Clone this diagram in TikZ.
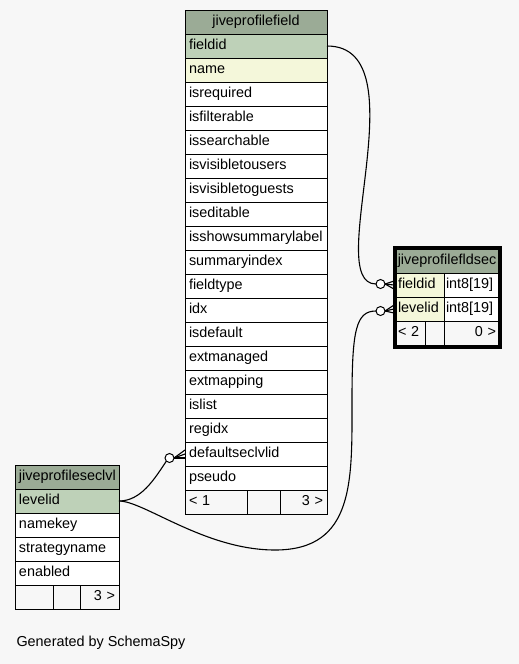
\documentclass[tikz,border=0pt]{standalone}
\usepackage{fontspec}
\setmainfont{Liberation Sans}
\usetikzlibrary{positioning,fit}
\definecolor{hdr}{HTML}{9BAB96}
\definecolor{pkey}{HTML}{BED1B8}
\definecolor{idxcol}{HTML}{F4F7DA}
\definecolor{page}{HTML}{F7F7F7}
\tikzset{
	cell/.style={draw, line width=1pt, fill=white, inner xsep=4pt, inner ysep=0pt, outer sep=0pt, minimum height=24pt, text height=10pt, text depth=3pt, font=\fontsize{14.4}{16}\selectfont, align=left},
	head/.style={cell, fill=hdr, align=center},
	pk/.style={cell, fill=pkey},
	ix/.style={cell, fill=idxcol},
	foot/.style={cell, fill=page},
	frame/.style={draw, line width=3pt, inner sep=2pt, outer sep=0pt},
	rel/.style={line width=1.1pt},
	odot/.style={draw, circle, fill=white, line width=1pt, minimum size=9pt, inner sep=0pt, outer sep=0pt}
}

\begin{document}
\begin{tikzpicture}[x=1pt, y=-1pt]
	\fill[page] (0,0) rectangle (519,664);
	\useasboundingbox (0,0) rectangle (519,664);
	% jiveprofilefield
	\begin{scope}[every node/.append style={text width=134pt}]
		\node[head, anchor=north west] (f-head) at (185,10) {jiveprofilefield};
		\node[pk, below=0pt of f-head] (f-fieldid) {fieldid};
		\node[ix, below=0pt of f-fieldid] (f-name) {name};
		\node[cell, below=0pt of f-name] (f-isreq) {isrequired};
		\node[cell, below=0pt of f-isreq] (f-isfilt) {isfilterable};
		\node[cell, below=0pt of f-isfilt] (f-issearch) {issearchable};
		\node[cell, below=0pt of f-issearch] (f-visusers) {isvisibletousers};
		\node[cell, below=0pt of f-visusers] (f-visguests) {isvisibletoguests};
		\node[cell, below=0pt of f-visguests] (f-isedit) {iseditable};
		\node[cell, below=0pt of f-isedit] (f-showsum) {isshowsummarylabel};
		\node[cell, below=0pt of f-showsum] (f-sumidx) {summaryindex};
		\node[cell, below=0pt of f-sumidx] (f-ftype) {fieldtype};
		\node[cell, below=0pt of f-ftype] (f-idx) {idx};
		\node[cell, below=0pt of f-idx] (f-isdef) {isdefault};
		\node[cell, below=0pt of f-isdef] (f-extman) {extmanaged};
		\node[cell, below=0pt of f-extman] (f-extmap) {extmapping};
		\node[cell, below=0pt of f-extmap] (f-islist) {islist};
		\node[cell, below=0pt of f-islist] (f-regidx) {regidx};
		\node[cell, below=0pt of f-regidx] (f-dflt) {defaultseclvlid};
		\node[cell, below=0pt of f-dflt] (f-pseudo) {pseudo};
		\node[foot, text width=54pt, below=0pt of f-pseudo.south west, anchor=north west] (f-foot1) {< 1};
		\node[foot, text width=25pt, right=0pt of f-foot1] (f-foot2) {};
		\node[foot, text width=39pt, align=right, right=0pt of f-foot2] (f-foot3) {3 >};
	\end{scope}
	% jiveprofilefldsec
	\node[head, inner xsep=1pt, text width=100pt, anchor=north west] (fs-head) at (396,249) {jiveprofilefldsec};
	\node[ix, inner xsep=2pt, text width=44pt, below=0pt of fs-head.south west, anchor=north west] (fs-fieldid) {fieldid};
	\node[cell, inner xsep=2pt, text width=50pt, right=0pt of fs-fieldid] (fs-type1) {int8[19]};
	\node[ix, inner xsep=2pt, text width=44pt, below=0pt of fs-fieldid] (fs-levelid) {levelid};
	\node[cell, inner xsep=2pt, text width=50pt, right=0pt of fs-levelid] (fs-type2) {int8[19]};
	\node[foot, inner xsep=2pt, text width=25pt, below=0pt of fs-levelid.south west, anchor=north west] (fs-foot1) {< 2};
	\node[foot, inner xsep=2pt, text width=15pt, right=0pt of fs-foot1] (fs-foot2) {};
	\node[foot, inner xsep=2pt, text width=50pt, align=right, right=0pt of fs-foot2] (fs-foot3) {0 >};
	\node[frame, fit=(fs-head)(fs-foot3)] (fs) {};
	% jiveprofileseclvl
	\begin{scope}[every node/.append style={text width=96pt}]
		\node[head, anchor=north west] (s-head) at (15,465) {jiveprofileseclvl};
		\node[pk, below=0pt of s-head] (s-levelid) {levelid};
		\node[cell, below=0pt of s-levelid] (s-namekey) {namekey};
		\node[cell, below=0pt of s-namekey] (s-strategy) {strategyname};
		\node[cell, below=0pt of s-strategy] (s-enabled) {enabled};
		\node[foot, text width=30pt, below=0pt of s-enabled.south west, anchor=north west] (s-foot1) {};
		\node[foot, text width=19pt, right=0pt of s-foot1] (s-foot2) {};
		\node[foot, text width=31pt, align=right, right=0pt of s-foot2] (s-foot3) {3 >};
	\end{scope}
	% relationships
	\node[odot, left=11pt of fs-fieldid.west, yshift=1pt] (o1) {};
	\node[odot, left=11pt of fs-levelid.west, yshift=-2pt] (o3) {};
	\node[odot, left=11pt of f-dflt.west, yshift=-4pt] (o2) {};
	\draw[rel] (f-fieldid.east) .. controls +(95,0) and +(-55,0) .. (o1.west);
	\draw[rel] (s-levelid.east) .. controls +(22,0) and +(-12,18) .. (o2.south west);
	\draw[rel] (s-levelid.east) .. controls +(25,0) and +(-70,0) .. (275,550)
		.. controls +(80,0) and +(0,80) .. (352,400)
		.. controls +(0,-70) and +(-20,0) .. (o3.west);
	\foreach \d in {-4,0,4} {
		\draw[rel] (fs.west |- fs-fieldid.west) ++(0,\d) -- (o1.east);
		\draw[rel] (fs.west |- fs-levelid.west) ++(0,\d) -- (o3.east);
		\draw[rel] (f-dflt.west) ++(0,\d) -- (o2.east);
	}
	\node[anchor=west, font=\fontsize{14.4}{16}\selectfont] (gen) at (13,643) {Generated by SchemaSpy};
\end{tikzpicture}
\end{document}
